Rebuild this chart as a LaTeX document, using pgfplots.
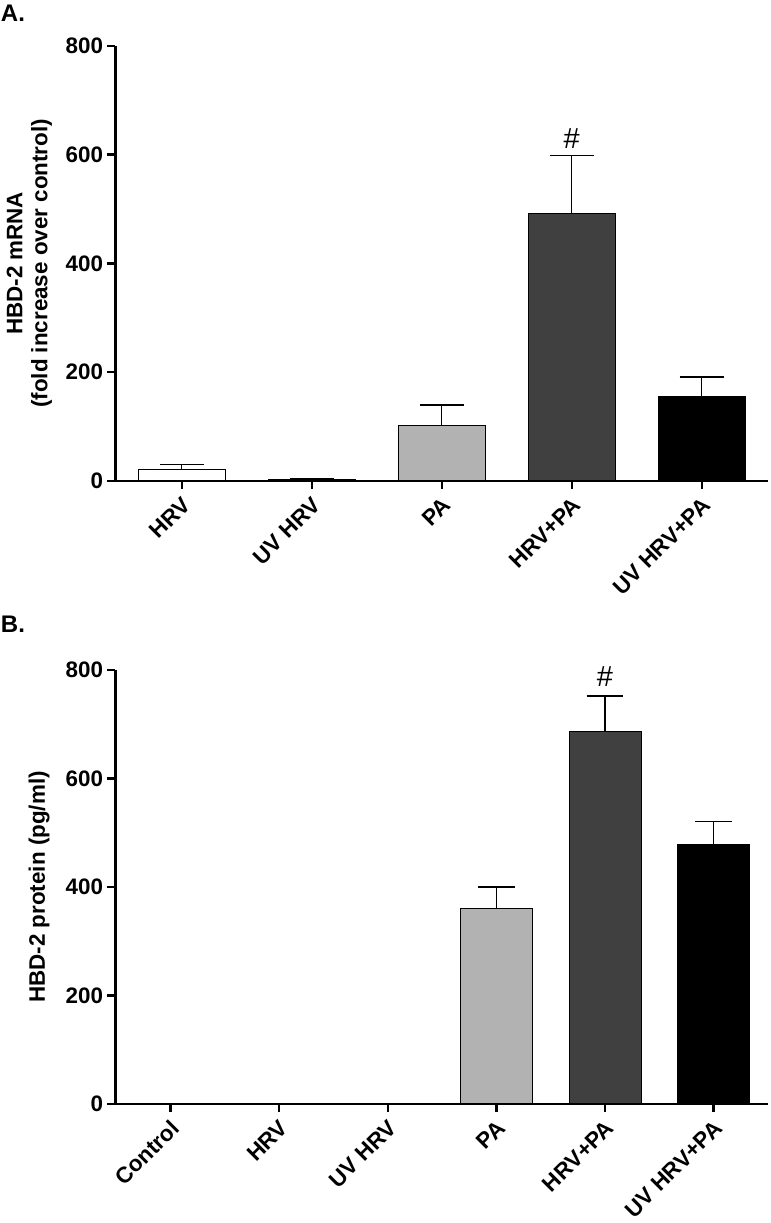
\documentclass[border=0pt]{standalone}
\usepackage{fontspec}
\setmainfont{Liberation Sans}
\usepackage{pgfplots}
\pgfplotsset{compat=1.18}
\definecolor{lgray}{RGB}{178,178,178}
\definecolor{dgray}{RGB}{64,64,64}
\newcommand{\lblfont}{\bfseries\fontsize{11.2}{12.5}\selectfont}
\pgfplotsset{
  gpstyle/.style={
    scale only axis,
    axis x line=bottom, axis y line=left,
    axis line style={line width=1.2pt,-},
    axis on top,
    tick align=outside,
    major tick length=4pt,
    every tick/.style={line width=1.2pt,black},
    ymin=0, ymax=800, ytick={0,200,400,600,800},
    /pgf/number format/assume math mode=true,
    yticklabel style={font=\lblfont, inner sep=1pt, xshift=-1pt},
    xticklabel style={font=\lblfont, rotate=45, anchor=east, inner sep=1pt, yshift=-6pt, xshift=-1.5pt},
    ybar, bar shift=0pt,
    clip=false,
    error bars/y dir=plus, error bars/y explicit,
    error bars/error bar style={line width=0.7pt,black},
  }
}
\begin{document}
\begin{tikzpicture}
\path[use as bounding box] (0,0) rectangle (385.5pt,-611.5pt);
\node[anchor=base west, inner sep=0pt, font=\bfseries\fontsize{12}{14}\selectfont] at (0.3pt,-10.85pt) {A.};
\node[anchor=base west, inner sep=0pt, font=\bfseries\fontsize{12}{14}\selectfont] at (0.3pt,-316pt) {B.};
% Panel A
\begin{axis}[gpstyle,
  width=326.25pt, height=217.65pt,
  at={(57.75pt,-240.5pt)}, anchor=south west,
  xmin=-0.51, xmax=4.51,
  bar width=43.5pt,
  xtick={0,1,2,3,4},
  xticklabels={HRV, UV HRV, PA, HRV+PA, UV HRV+PA},
  error bars/error mark options={line width=0.7pt, mark size=11pt, rotate=90},
  ylabel={HBD-2 mRNA\\(fold increase over control)},
  ylabel style={font=\lblfont, align=center, at={(axis description cs:-0.132,0.5)}, anchor=center},
]
\addplot[fill=white, draw=black, line width=0.5pt] coordinates {(0,22) +- (0,8.5)};
\addplot[fill=white, draw=black, line width=0.5pt] coordinates {(1,3) +- (0,2)};
\addplot[fill=lgray, draw=black, line width=0.5pt] coordinates {(2,102) +- (0,37.5)};
\addplot[fill=dgray, draw=black, line width=0.5pt] coordinates {(3,491) +- (0,107)};
\addplot[fill=black, draw=black, line width=0.5pt] coordinates {(4,155) +- (0,36)};
\node[anchor=base, font=\fontsize{14.5}{16}\selectfont, inner sep=0pt] at (axis cs:3,612) {\#};
\end{axis}
% Panel B
\begin{axis}[gpstyle,
  width=326.25pt, height=217pt,
  at={(57.75pt,-552pt)}, anchor=south west,
  xmin=-0.506, xmax=5.5,
  bar width=36pt,
  xtick={0,1,2,3,4,5},
  xticklabels={Control, HRV, UV HRV, PA, HRV+PA, UV HRV+PA},
  error bars/error mark options={line width=0.7pt, mark size=9.2pt, rotate=90},
  ylabel={HBD-2 protein (pg/ml)},
  ylabel style={font=\lblfont, align=center, at={(axis description cs:-0.1172,0.5)}, anchor=center},
]
\addplot[fill=white, draw=black, line width=0.5pt] coordinates {(0,0) (1,0) (2,0)};
\addplot[fill=lgray, draw=black, line width=0.5pt] coordinates {(3,361) +- (0,39)};
\addplot[fill=dgray, draw=black, line width=0.5pt] coordinates {(4,686.5) +- (0,65.5)};
\addplot[fill=black, draw=black, line width=0.5pt] coordinates {(5,479) +- (0,42)};
\node[anchor=base, font=\fontsize{14.5}{16}\selectfont, inner sep=0pt] at (axis cs:4,769) {\#};
\end{axis}
\end{tikzpicture}
\end{document}
